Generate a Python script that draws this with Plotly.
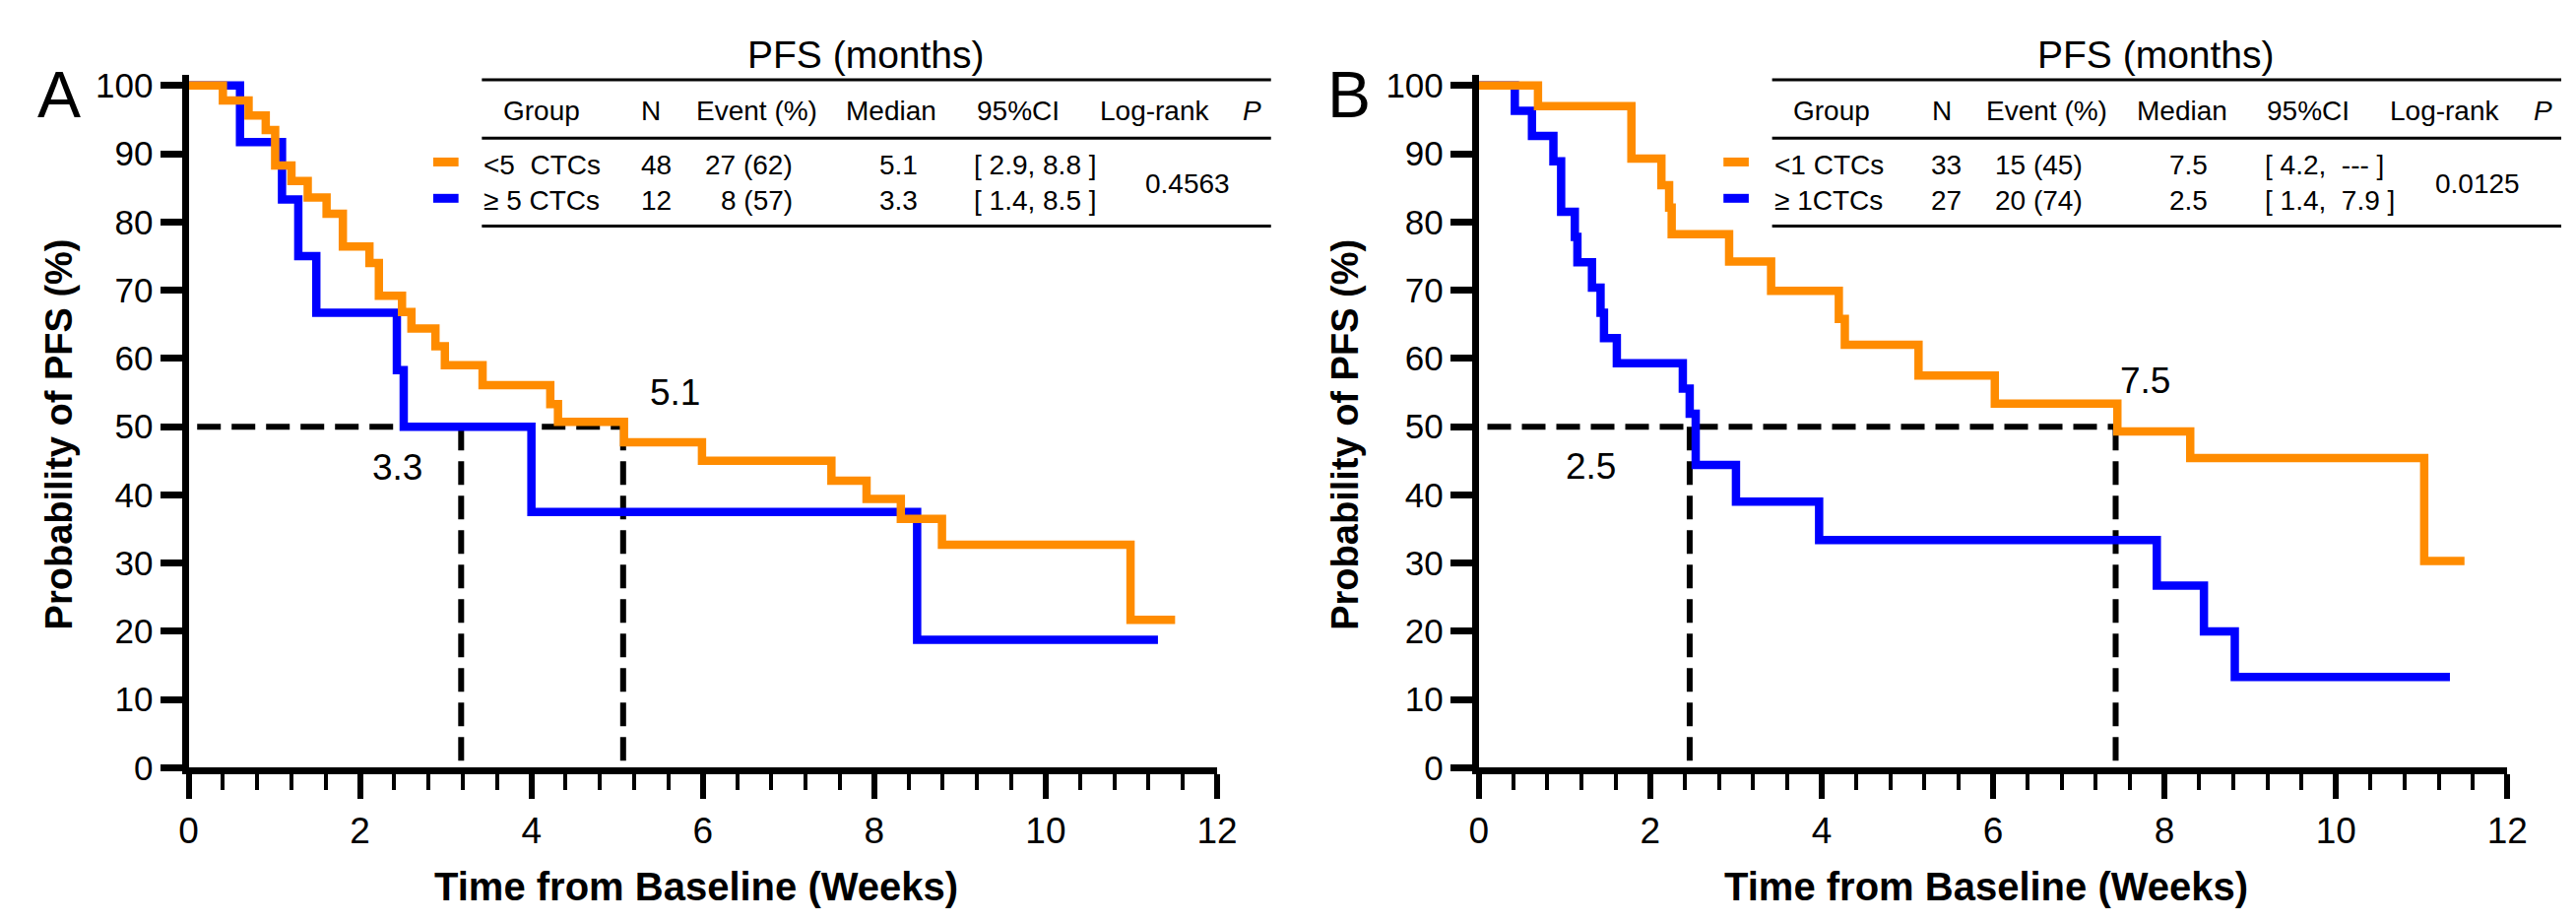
import plotly.graph_objects as go

W, H = 2616, 936

# ---- curve data, weeks / % PFS, step starts ----
a_low_t = [0, 0.40, 0.70, 0.90, 1.01, 1.20, 1.39, 1.61, 1.80, 2.11, 2.22, 2.49, 2.60,
           2.88, 2.99, 3.43, 4.22, 4.31, 5.08, 5.99, 7.50, 7.91, 8.31, 8.79, 10.99, 11.51]
a_low_s = [100, 97.8, 95.6, 93.5, 88.3, 86.0, 83.6, 81.2, 76.4, 74.0, 69.2, 66.8, 64.4,
           61.8, 59.0, 56.1, 53.3, 50.7, 47.7, 45.0, 42.1, 39.4, 36.5, 32.7, 21.7, 21.7]
a_high_t = [0, 0.60, 1.09, 1.28, 1.49, 2.43, 2.51, 4.00, 8.50, 11.31]
a_high_s = [100, 91.7, 83.3, 75.0, 66.7, 58.3, 50.0, 37.5, 18.75, 18.75]

b_low_t = [0, 0.69, 1.78, 2.13, 2.22, 2.25, 2.92, 3.41, 4.20, 4.27, 5.13, 6.02, 7.45,
           8.30, 11.03, 11.50]
b_low_s = [100, 97.0, 89.3, 85.4, 82.1, 78.2, 74.2, 69.9, 65.8, 62.0, 57.5, 53.4, 49.3,
           45.4, 30.3, 30.3]
b_high_t = [0, 0.42, 0.62, 0.87, 0.96, 1.12, 1.15, 1.32, 1.42, 1.46, 1.61, 2.38, 2.46,
            2.53, 3.00, 3.97, 7.91, 8.46, 8.82, 11.33]
b_high_s = [100, 96.3, 92.6, 88.9, 81.5, 77.8, 74.1, 70.4, 66.7, 63.0, 59.3, 55.6, 51.9,
            44.4, 39.0, 33.4, 26.7, 20.0, 13.3, 13.3]

# median drop lines (x positions as drawn) and their labels
med_lines_a = [3.18, 5.07]
med_lines_b = [2.46, 7.43]
med_labels_a = ["3.3", "5.1"]
med_labels_b = ["2.5", "7.5"]

# table contents
groups_a = ["&lt;5\u00a0 CTCs", "\u2265 5 CTCs"]
groups_b = ["&lt;1 CTCs", "\u2265 1CTCs"]
n_a = ["48", "12"]
n_b = ["33", "27"]
events_a = ["27 (62)", "8 (57)"]
events_b = ["15 (45)", "20 (74)"]
median_a = ["5.1", "3.3"]
median_b = ["7.5", "2.5"]
ci_a = ["[ 2.9, 8.8 ]", "[ 1.4, 8.5 ]"]
ci_b = ["[ 4.2,\u00a0 --- ]", "[ 1.4,\u00a0 7.9 ]"]
p_a = "0.4563"
p_b = "0.0125"
headers = ["Group", "N", "Event (%)", "Median", "95%CI", "Log-rank", "<i>P</i>"]

ORANGE = "#FF8C00"
BLUE = "#0000FF"
FONT = "Arial, Liberation Sans, sans-serif"


def px(x):
    return x / W


def py(y):
    return 1 - y / H


def txt(x, y, text, size=28, **kw):
    # text placed by picture pixels, centred unless told otherwise
    font = dict(family=FONT, size=size, color="black")
    font.update(kw.pop("font", {}))
    kw.setdefault("xanchor", "center")
    kw.setdefault("yanchor", "middle")
    return dict(x=px(x), y=py(y), xref="paper", yref="paper", text=text,
                showarrow=False, font=font, **kw)


fig = go.Figure()

panels = [
    dict(off=0, xa="x", ya="y", low=(a_low_t, a_low_s), high=(a_high_t, a_high_s),
         med=med_lines_a, mlab=med_labels_a, letter="A", groups=groups_a, n=n_a,
         ev=events_a, md=median_a, ci=ci_a, p=p_a),
    dict(off=1326, xa="x2", ya="y2", low=(b_low_t, b_low_s), high=(b_high_t, b_high_s),
         med=med_lines_b, mlab=med_labels_b, letter="B", groups=groups_b, n=n_b,
         ev=events_b, md=median_b, ci=ci_b, p=p_b),
]

for p in panels:
    # dashed median guide lines
    fig.add_trace(go.Scatter(x=[0.1, max(p["med"])], y=[50, 50], mode="lines",
                             line=dict(color="black", width=6, dash="24px,11px"),
                             xaxis=p["xa"], yaxis=p["ya"], showlegend=False, hoverinfo="skip"))
    for m in p["med"]:
        fig.add_trace(go.Scatter(x=[m, m], y=[50, 1], mode="lines",
                                 line=dict(color="black", width=6, dash="24px,11px"),
                                 xaxis=p["xa"], yaxis=p["ya"], showlegend=False,
                                 hoverinfo="skip"))
    # KM curves
    fig.add_trace(go.Scatter(x=p["high"][0], y=p["high"][1], mode="lines",
                             line=dict(color=BLUE, width=8.5, shape="hv"),
                             xaxis=p["xa"], yaxis=p["ya"], showlegend=False))
    fig.add_trace(go.Scatter(x=p["low"][0], y=p["low"][1], mode="lines",
                             line=dict(color=ORANGE, width=8.5, shape="hv"),
                             xaxis=p["xa"], yaxis=p["ya"], showlegend=False))

ydom = [py(786), py(61.3)]
axis_common = dict(showgrid=False, zeroline=False, showline=True, linecolor="black",
                   linewidth=7, ticks="outside", tickcolor="black")
for i, p in enumerate(panels):
    sfx = "" if i == 0 else str(i + 1)
    x0 = 175.6 + p["off"]
    fig.update_layout(**{
        "xaxis" + sfx: dict(axis_common, domain=[px(x0), px(x0 + 1057)], range=[0, 12],
                            tickmode="linear", tick0=0, dtick=2, ticklen=25, tickwidth=6,
                            tickfont=dict(family=FONT, size=37, color="black"),
                            minor=dict(ticks="outside", dtick=0.4, tick0=0, ticklen=16,
                                       tickwidth=4, tickcolor="black"),
                            anchor="y" + sfx),
        "yaxis" + sfx: dict(axis_common, domain=ydom, range=[0, 101.5],
                            tickmode="array", tickvals=list(range(0, 101, 10)),
                            ticklen=22, tickwidth=7,
                            tickfont=dict(family=FONT, size=35, color="black"),
                            anchor="x" + sfx),
    })

ann = []
shapes = []
col_x = dict(group_h=538, n_h=651, ev_h=759, md_h=898, ci_h=1028, lr=1169, ph=1269,
             n=656, ev_r=798, md=905, ci_l=981, pv=1202)
for i, p in enumerate(panels):
    o = p["off"]
    ax, ay = p["xa"], p["ya"]
    # panel letter
    ann.append(txt(42 + o, 81, p["letter"], size=66))
    # axis titles
    ann.append(txt(42 + o - (4 if i else 0), 437, "Probability of PFS (%)", size=38,
                   textangle=-90, font=dict(weight="bold")))
    ann.append(txt(697 + o, 910, "Time from Baseline (Weeks)", size=40,
                   font=dict(weight="bold")))
    # median labels, in data units
    lab_pos = [(2.43, 44.0), (5.67, 55.0)] if i == 0 else [(1.31, 44.2), (7.78, 56.7)]
    for (lx, ly), t in zip(lab_pos, p["mlab"]):
        ann.append(dict(x=lx, y=ly, xref=ax, yref=ay, text=t, showarrow=False,
                        xanchor="center", yanchor="middle",
                        font=dict(family=FONT, size=37, color="black")))
    # table
    ann.append(txt(872 + o, 40, "PFS (months)", size=39))
    hx = [col_x["group_h"], col_x["n_h"], col_x["ev_h"], col_x["md_h"], col_x["ci_h"],
          col_x["lr"], col_x["ph"]]
    for hxx, h in zip(hx, headers):
        ann.append(txt(hxx + o, 98, h))
    for r, ry in enumerate([155, 192]):
        ann.append(txt(477 + o, ry, p["groups"][r], xanchor="left"))
        ann.append(txt(col_x["n"] + o, ry, p["n"][r]))
        ann.append(txt(col_x["ev_r"] + o, ry, p["ev"][r], xanchor="right"))
        ann.append(txt(col_x["md"] + o, ry, p["md"][r]))
        ann.append(txt(col_x["ci_l"] + o, ry, p["ci"][r], xanchor="left"))
    ann.append(txt(col_x["pv"] + o, 175, p["p"]))
    # rules
    for ry in [66, 127, 219]:
        shapes.append(dict(type="line", xref="paper", yref="paper", x0=px(477 + o),
                           x1=px(1288 + o), y0=py(ry), y1=py(ry),
                           line=dict(color="black", width=3)))
    # legend swatches
    for ry, c in [(152, ORANGE), (190, BLUE)]:
        shapes.append(dict(type="line", xref="paper", yref="paper", x0=px(427 + o),
                           x1=px(453 + o), y0=py(ry), y1=py(ry),
                           line=dict(color=c, width=9)))

fig.update_layout(width=W, height=H, autosize=False,
                  margin=dict(l=0, r=0, t=0, b=0),
                  paper_bgcolor="white", plot_bgcolor="white",
                  annotations=ann, shapes=shapes, showlegend=False)

fig.write_html("out.html")
